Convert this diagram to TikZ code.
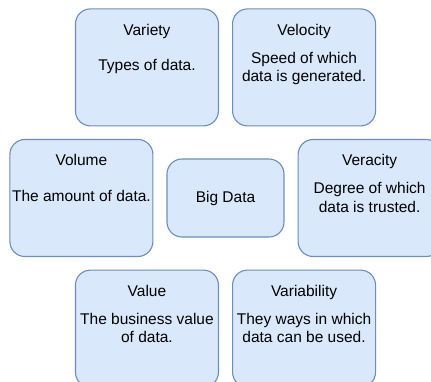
\documentclass[tikz,border=0pt]{standalone}
\usepackage{fontspec}
\setmainfont{Liberation Sans}
\usetikzlibrary{positioning}
\definecolor{boxfill}{HTML}{DAE8FC}
\definecolor{boxline}{HTML}{6C8EBF}
\tikzset{
  vbox/.style={draw=boxline, fill=boxfill, line width=1.1pt, rounded corners=15pt,
    minimum width=143pt, minimum height=117pt},
  vtext/.style={inner sep=0pt, anchor=base, align=center},
}
\begin{document}
\begin{tikzpicture}[x=1pt,y=-1pt,font=\fontsize{15.5}{18.3}\selectfont]
                \def\dx{13pt}
                \def\dy{32pt}
                \useasboundingbox (0,0) rectangle (431,381);
                \clip (0,0) rectangle (431,381);

                \node (bigdata) [vbox, minimum width=117pt, minimum height=78pt] at (225.5,198) {Big Data};

                \node (volume) [vbox, left=\dx of bigdata] {};
                \node (veracity) [vbox, right=\dx of bigdata] {};

                \node (variety) [vbox, above left=\dy and 6.5pt of bigdata.north] {};
                \node (velocity) [vbox, right=\dx of variety] {};

                \node (value) [vbox, below left=\dy and 6.5pt of bigdata.south] {};
                \node (variability) [vbox, right=\dx of value] {};

                % headings
                \node (varietyhead) [vtext] at ([yshift=-27pt]variety.north) {Variety};
                \node (velocityhead) [vtext] at ([yshift=-27pt]velocity.north) {Velocity};
                \node (volumehead) [vtext] at ([yshift=-27pt]volume.north) {Volume};
                \node (veracityhead) [vtext] at ([yshift=-27pt]veracity.north) {Veracity};
                \node (valuehead) [vtext] at ([yshift=-27pt]value.north) {Value};
                \node (variabilityhead) [vtext] at ([yshift=-27pt]variability.north) {Variability};

                % descriptions (base = last line)
                \node (varietytext) [vtext] at ([yshift=-62pt]variety.north) {Types of data.};
                \node (volumetext) [vtext] at ([yshift=-62.5pt]volume.north) {The amount of data.};
                \node (velocitytext) [vtext] at ([yshift=-73.3pt]velocity.north) {Speed of which\\data is generated.};
                \node (veracitytext) [vtext] at ([yshift=-73.3pt]veracity.north) {Degree of which\\data is trusted.};
                \node (valuetext) [vtext] at ([yshift=-73.3pt]value.north) {The business value\\of data.};
                \node (variabilitytext) [vtext] at ([yshift=-73.3pt]variability.north) {They ways in which\\data can be used.};

            \end{tikzpicture}
\end{document}
